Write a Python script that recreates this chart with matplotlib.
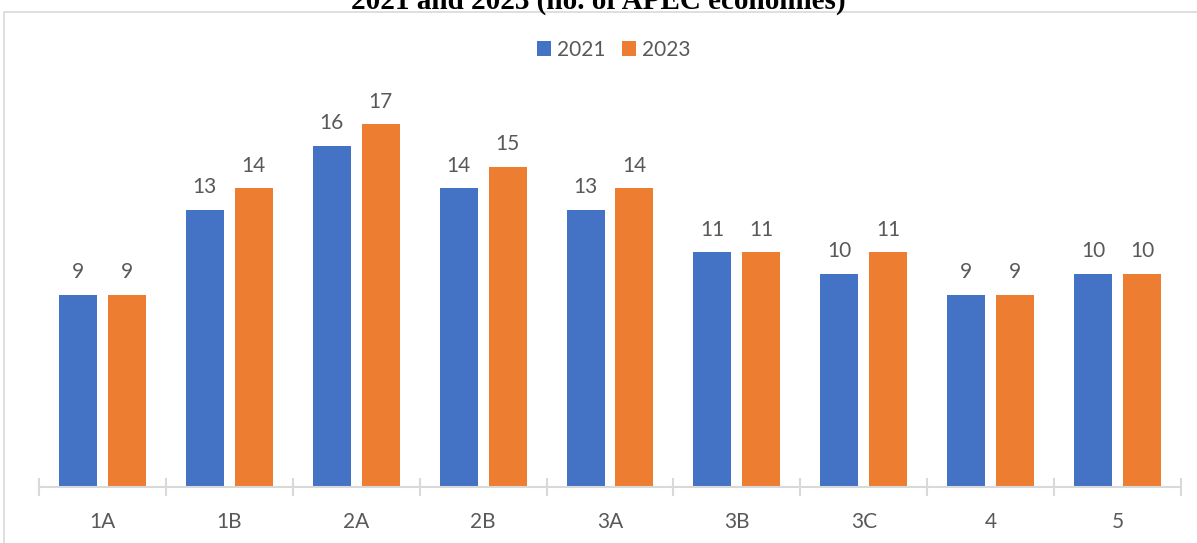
import matplotlib
matplotlib.use("Agg")
import matplotlib.pyplot as plt
import numpy as np
from matplotlib.patches import Rectangle

plt.rcParams["font.family"] = ["Lato", "DejaVu Sans"]

categories = ["1A", "1B", "2A", "2B", "3A", "3B", "3C", "4", "5"]
vals_2021 = [9, 13, 16, 14, 13, 11, 10, 9, 10]
vals_2023 = [9, 14, 17, 15, 14, 11, 11, 9, 10]
series_names = ["2021", "2023"]

BLUE, ORANGE = "#4472C4", "#ED7D31"
GRID = "#D9D9D9"
TXT = "#595959"

W, H = 1197, 543
fig = plt.figure(figsize=(W / 100, H / 100), dpi=100)

# chart frame (light border, cut off at right/bottom like the source)
fig.patches.append(Rectangle((4 / W, -0.05), 1.2, 1 - 12 / H + 0.05,
                             transform=fig.transFigure, fill=False,
                             edgecolor=GRID, linewidth=1.2, zorder=0))

# title, clipped at the top edge as in the source image
fig.text(0.5, 1 - 9 / H, "2021 and 2023 (no. of APEC economies)",
         ha="center", va="baseline", fontsize=21, fontweight="bold",
         family="Liberation Serif")

# plot area: x 39..1181 px, baseline y=487, 21.33 px per unit
x0, x1, yb = 39, 1181, 487
ppu = 192 / 9
ytop = 18
ax = fig.add_axes([x0 / W, (H - yb) / H, (x1 - x0) / W, ytop * ppu / H])
ax.set_xlim(0, len(categories))
ax.set_ylim(0, ytop)

x = np.arange(len(categories)) + 0.5
bw = 38 / 127
gap = 11 / 127
off = (bw + gap) / 2
b1 = ax.bar(x - off, vals_2021, bw, color=BLUE, label=series_names[0], zorder=2)
b2 = ax.bar(x + off, vals_2023, bw, color=ORANGE, label=series_names[1], zorder=2)

for bars in (b1, b2):
    for r in bars:
        ax.text(r.get_x() + r.get_width() / 2, r.get_height() + 0.6,
                f"{int(r.get_height())}", ha="center", va="bottom",
                fontsize=15, color=TXT)

for s in ("top", "right", "left"):
    ax.spines[s].set_visible(False)
ax.spines["bottom"].set_color(GRID)
ax.spines["bottom"].set_linewidth(1.5)
ax.set_yticks([])
ax.set_xticks(np.arange(len(categories) + 1))
ax.set_xticklabels([])
ax.tick_params(axis="x", which="major", direction="inout", length=13,
               width=1.5, color=GRID)
ax.set_xticks(x, minor=True)
ax.set_xticklabels(categories, minor=True)
ax.tick_params(axis="x", which="minor", length=0, pad=18, labelsize=15,
               labelcolor=TXT)

leg = fig.legend(loc="center", bbox_to_anchor=(614 / W, 1 - 50 / H), ncol=2,
                 frameon=False, fontsize=15, handlelength=0.65,
                 handleheight=0.75, handletextpad=0.3, columnspacing=0.8)
for t in leg.get_texts():
    t.set_color(TXT)

fig.savefig("out.png", dpi=100)
